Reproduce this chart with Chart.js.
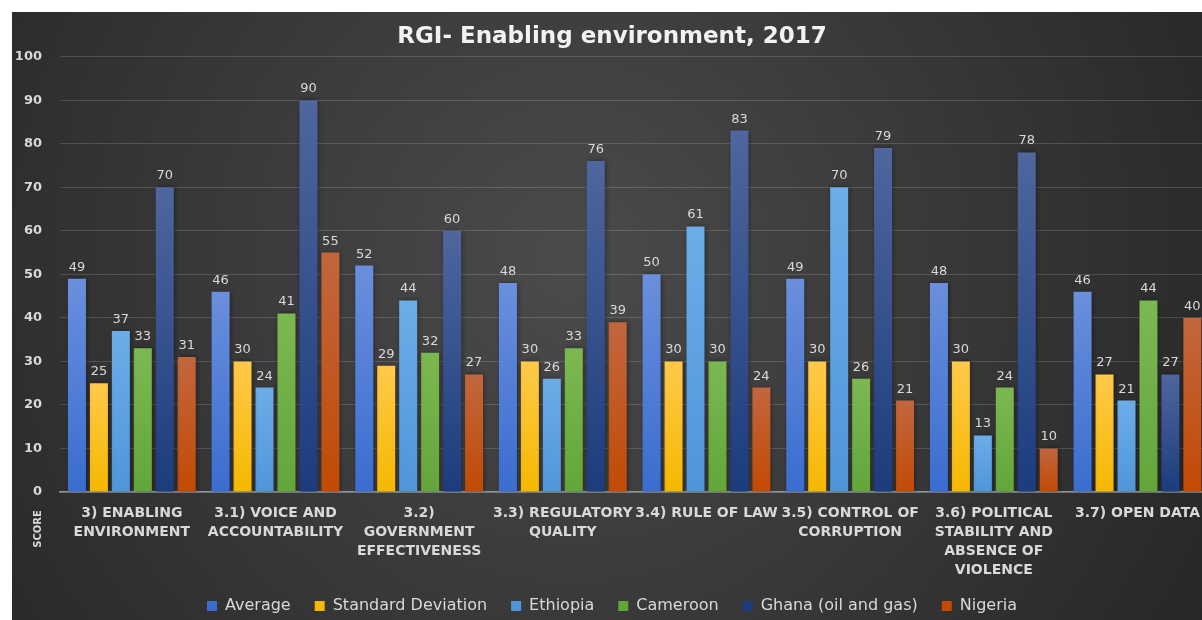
<!DOCTYPE html>
<html>
<head>
<meta charset="utf-8">
<title>RGI- Enabling environment, 2017</title>
<script src="https://cdn.jsdelivr.net/npm/chart.js@4.4.1/dist/chart.umd.min.js"></script>
<style>
  html, body { margin: 0; padding: 0; background: #fff; width: 1202px; height: 620px; overflow: hidden; }
  #wrap { position: absolute; left: 12px; top: 12px; width: 1200px; height: 612px; }
</style>
</head>
<body>
<div id="wrap"><canvas id="myChart" width="1200" height="612"></canvas></div>
<script>
// categories (sub-indicators of the enabling environment component)
var categories = [
  ['3) ENABLING', 'ENVIRONMENT'],
  ['3.1) VOICE AND', 'ACCOUNTABILITY'],
  ['3.2)', 'GOVERNMENT', 'EFFECTIVENESS'],
  ['3.3) REGULATORY', 'QUALITY'],
  ['3.4) RULE OF LAW'],
  ['3.5) CONTROL OF', 'CORRUPTION'],
  ['3.6) POLITICAL', 'STABILITY AND', 'ABSENCE OF', 'VIOLENCE'],
  ['3.7) OPEN DATA']
];

// scores per series
var average  = [49, 46, 52, 48, 50, 49, 48, 46];
var stdDev   = [25, 30, 29, 30, 30, 30, 30, 27];
var ethiopia = [37, 24, 44, 26, 61, 70, 13, 21];
var cameroon = [33, 41, 32, 33, 30, 26, 24, 44];
var ghana    = [70, 90, 60, 76, 83, 79, 78, 27];
var nigeria  = [31, 55, 27, 39, 24, 21, 10, 40];

var FONT = "'DejaVu Sans', sans-serif";

// vertical gradient for each bar, lighter at the top
function barFill(top, bottom) {
  return function (c) {
    var chart = c.chart;
    if (!chart.chartArea || c.type !== 'data') return bottom;
    var y = chart.scales.y;
    var g = chart.ctx.createLinearGradient(0, y.getPixelForValue(c.raw), 0, y.getPixelForValue(0));
    g.addColorStop(0, top);
    g.addColorStop(1, bottom);
    return g;
  };
}

function series(label, data, top, bottom) {
  return {
    label: label,
    data: data,
    backgroundColor: barFill(top, bottom),
    borderWidth: 0,
    barPercentage: 0.82,
    categoryPercentage: 0.917
  };
}

// dark radial backdrop
var backdrop = {
  id: 'backdrop',
  beforeDraw: function (chart) {
    var ctx = chart.ctx;
    var g = ctx.createRadialGradient(560, 250, 0, 560, 250, 760);
    g.addColorStop(0, '#4b4b4b');
    g.addColorStop(1, '#252525');
    ctx.save();
    ctx.fillStyle = g;
    ctx.fillRect(0, 0, chart.width, chart.height);
    ctx.restore();
  }
};

// soft shadow under the bars, then value labels on top
var barLabels = {
  id: 'barLabels',
  beforeDatasetsDraw: function (chart) {
    var ctx = chart.ctx;
    ctx.save();
    ctx.shadowColor = 'rgba(0,0,0,0.45)';
    ctx.shadowBlur = 5;
    ctx.shadowOffsetX = 1;
  },
  afterDatasetsDraw: function (chart) {
    var ctx = chart.ctx;
    ctx.restore();
    ctx.save();
    ctx.font = '13px ' + FONT;
    ctx.fillStyle = '#d9d9d9';
    ctx.textAlign = 'center';
    ctx.textBaseline = 'alphabetic';
    chart.data.datasets.forEach(function (ds, i) {
      chart.getDatasetMeta(i).data.forEach(function (bar, j) {
        ctx.fillText(ds.data[j], bar.x, bar.y - 8);
      });
    });
    ctx.restore();
  }
};

// axis title sits low, next to the category labels
var scoreTitle = {
  id: 'scoreTitle',
  afterDraw: function (chart) {
    var ctx = chart.ctx;
    ctx.save();
    ctx.translate(26, 517);
    ctx.rotate(-Math.PI / 2);
    ctx.font = 'bold 10px ' + FONT;
    ctx.fillStyle = '#d9d9d9';
    ctx.textAlign = 'center';
    ctx.textBaseline = 'middle';
    ctx.fillText('SCORE', 0, 0);
    ctx.restore();
  }
};

var ctx = document.getElementById('myChart').getContext('2d');

var myChart = new Chart(ctx, {
  type: 'bar',
  data: {
    labels: categories,
    datasets: [
      series('Average', average, '#6a8fdc', '#3a6dd0'),
      series('Standard Deviation', stdDev, '#ffc94a', '#f5b800'),
      series('Ethiopia', ethiopia, '#6cade8', '#4f96d8'),
      series('Cameroon', cameroon, '#7cb852', '#62a63a'),
      series('Ghana (oil and gas)', ghana, '#4f669e', '#1c3c7e'),
      series('Nigeria', nigeria, '#c2663e', '#c24a04')
    ]
  },
  plugins: [backdrop, barLabels, scoreTitle],
  options: {
    responsive: false,
    animation: false,
    layout: { padding: 0 },
    plugins: {
      title: {
        display: true,
        text: 'RGI- Enabling environment, 2017',
        color: '#f2f2f2',
        font: { family: FONT, size: 23, weight: 'bold' },
        padding: { top: 11, bottom: 6 }
      },
      legend: {
        position: 'bottom',
        labels: {
          color: '#d9d9d9',
          font: { family: FONT, size: 16 },
          boxWidth: 10,
          boxHeight: 10,
          padding: 24
        }
      },
      tooltip: { enabled: false }
    },
    scales: {
      x: {
        grid: { display: false, drawTicks: false },
        border: { color: '#8f959c', width: 1.5 },
        ticks: {
          color: '#d9d9d9',
          font: { family: FONT, size: 14, weight: 'bold', lineHeight: '19px' },
          maxRotation: 0,
          minRotation: 0,
          autoSkip: false,
          padding: 12
        },
        afterFit: function (s) { s.height = 82; }
      },
      y: {
        min: 0,
        max: 100,
        grid: { color: 'rgba(255,255,255,0.15)', drawTicks: false },
        border: { display: false },
        ticks: {
          stepSize: 10,
          color: '#d9d9d9',
          font: { family: FONT, size: 13, weight: 'bold' },
          padding: 18
        },
        afterFit: function (s) { s.width = 48; }
      }
    }
  }
});
</script>
</body>
</html>
